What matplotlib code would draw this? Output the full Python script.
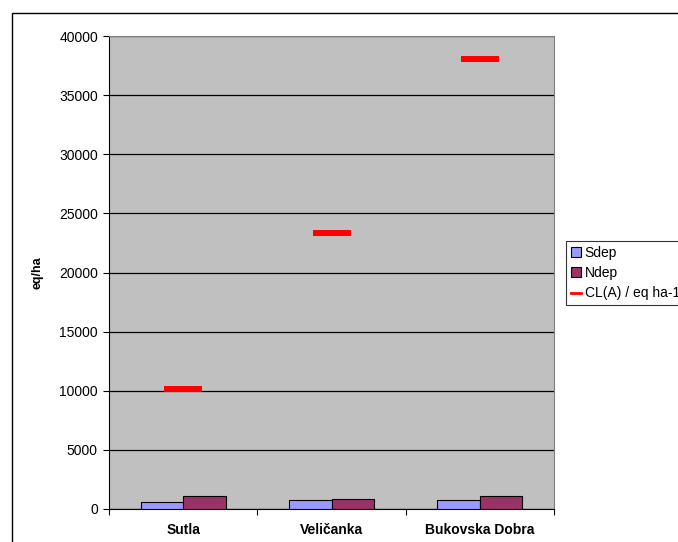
import matplotlib
matplotlib.use("Agg")
import matplotlib.pyplot as plt
from matplotlib.patches import Rectangle
from matplotlib.lines import Line2D
import numpy as np

plt.rcParams['font.family'] = ['Liberation Sans', 'DejaVu Sans']

categories = ["Sutla", "Veličanka", "Bukovska Dobra"]
sdep = [590, 760, 760]
ndep = [1075, 850, 1075]
cl_a = [10130, 23300, 38040]
yticks = [0, 5000, 10000, 15000, 20000, 25000, 30000, 35000, 40000]

W, H = 678, 542
fig = plt.figure(figsize=(W / 100, H / 100), dpi=100)

# outer chart border (runs off the right/bottom edge like the original)
fig.patches.append(Rectangle((12 / W, -0.1), 1.2, 1 - 13 / H + 0.1,
                             transform=fig.transFigure, fill=False,
                             edgecolor="black", linewidth=1.0))

ax = fig.add_axes([109 / W, (H - 509) / H, (554 - 109) / W, (509 - 36) / H])
ax.set_facecolor("#C0C0C0")

x = np.arange(len(categories))
bw = 0.286
ax.bar(x - bw / 2, sdep, bw, color="#9999FF", edgecolor="black", linewidth=0.8,
       label="Sdep", zorder=3)
ax.bar(x + bw / 2, ndep, bw, color="#993366", edgecolor="black", linewidth=0.8,
       label="Ndep", zorder=3)
ax.plot(x, cl_a, linestyle="none", marker="_", markersize=28,
        markeredgewidth=4.3, color="#FF0000", zorder=4)

ax.set_xlim(-0.5, len(categories) - 0.5)
ax.set_ylim(0, 40000)
ax.set_yticks(yticks)
ax.set_yticklabels([str(v) for v in yticks], fontsize=10)
ax.yaxis.grid(True, color="black", linewidth=0.9, zorder=1)
ax.set_axisbelow(True)

ax.set_xticks(np.arange(len(categories) + 1) - 0.5)
ax.set_xticklabels([])
ax.set_xticks(x, minor=True)
ax.set_xticklabels(categories, minor=True, fontsize=10, fontweight="bold")
ax.tick_params(axis="x", which="minor", length=0, pad=10)
ax.tick_params(axis="x", which="major", length=4, direction="out")
ax.tick_params(axis="y", length=4, direction="out", pad=4)

for s in ["left", "bottom"]:
    ax.spines[s].set_color("black")
for s in ["top", "right"]:
    ax.spines[s].set_color("#808080")

ax.set_ylabel("eq/ha", fontsize=9, fontweight="bold", labelpad=11)

handles = [
    Rectangle((0, 0), 1, 1, facecolor="#9999FF", edgecolor="black", linewidth=0.8),
    Rectangle((0, 0), 1, 1, facecolor="#993366", edgecolor="black", linewidth=0.8),
    Line2D([0], [0], color="#FF0000", linewidth=2),
]
leg = fig.legend(handles, ["Sdep", "Ndep", "CL(A) / eq ha-1"],
                 loc="upper left", bbox_to_anchor=(566 / W, 1 - 241 / H),
                 fontsize=10, frameon=True, fancybox=False, edgecolor="black",
                 handlelength=0.7, handleheight=0.7, handletextpad=0.3,
                 borderpad=0.35, labelspacing=0.45, borderaxespad=0)
leg.get_frame().set_linewidth(0.8)

fig.savefig("out.png", dpi=100)
